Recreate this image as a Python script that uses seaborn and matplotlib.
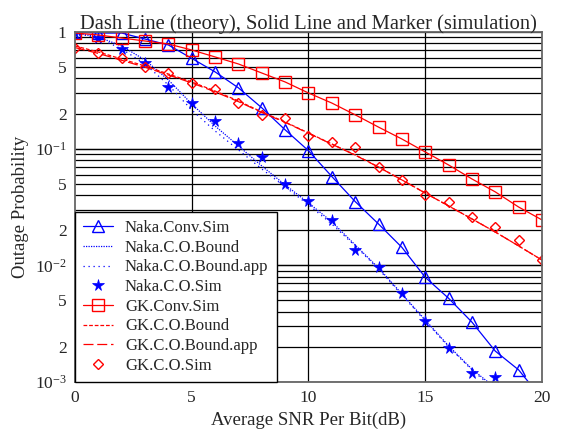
import numpy as np
import pandas as pd
import seaborn as sns
import matplotlib
matplotlib.use("Agg")
import matplotlib.pyplot as plt
from matplotlib.ticker import FixedLocator, NullLocator

# Average SNR per bit (dB)
snr = list(range(0, 21))

# Nakagami channel
naka_conv_sim = [1.0, 0.98, 0.98, 0.87, 0.774, 0.594, 0.455, 0.332, 0.224, 0.145,
                 0.096, 0.0577, 0.0352, 0.0226, 0.01426, 0.00789, 0.00522, 0.00326,
                 0.00184, 0.00127, 0.00072]
naka_co_bound = [0.98, 0.906, 0.759, 0.575, 0.388, 0.2415, 0.1565, 0.1055, 0.0711, 0.0489,
                 0.0343, 0.0236, 0.01496, 0.0095, 0.00569, 0.0034, 0.00204, 0.00129,
                 0.00089, 0.000577, 0.000373]
naka_co_bound_app = [0.98, 0.888, 0.715, 0.532, 0.3515, 0.2146, 0.1418, 0.0975, 0.067, 0.047,
                     0.033, 0.0226, 0.01466, 0.0093, 0.00557, 0.00334, 0.0020, 0.00127,
                     0.000855, 0.00056, 0.00036]
naka_snr_sim = list(range(0, 19))
naka_co_sim = [0.98, 0.888, 0.715, 0.542, 0.338, 0.246, 0.173, 0.112, 0.0849, 0.0498,
               0.0356, 0.0245, 0.01355, 0.0096, 0.0058, 0.00334, 0.00196, 0.00119, 0.0011]

# Generalized-K channel
gk_conv_sim = [0.98, 0.943, 0.888, 0.837, 0.789, 0.701, 0.611, 0.532, 0.445, 0.373,
               0.300, 0.246, 0.195, 0.153, 0.121, 0.0937, 0.0725, 0.055, 0.0426,
               0.0316, 0.0245]
gk_co_bound = [0.759, 0.674, 0.587, 0.511, 0.4365, 0.373, 0.312, 0.2564, 0.2063, 0.1693,
               0.1363, 0.1097, 0.0883, 0.0697, 0.054, 0.0417, 0.0323, 0.025, 0.0193,
               0.01466, 0.0111]
gk_co_bound_app = [0.735, 0.655, 0.572, 0.499, 0.428, 0.366, 0.307, 0.253, 0.204, 0.168,
                   0.1355, 0.1092, 0.088, 0.0695, 0.0539, 0.0416, 0.0323, 0.025, 0.0193,
                   0.01466, 0.0111]
gk_co_sim = [0.729, 0.661, 0.599, 0.501, 0.445, 0.366, 0.325, 0.246, 0.195, 0.183,
             0.128, 0.113, 0.1035, 0.069, 0.054, 0.0401, 0.0349, 0.026, 0.0213,
             0.0165, 0.0111]

y_ticks = [1e-3, 2e-3, 5e-3, 1e-2, 2e-2, 5e-2, 1e-1, 2e-1, 5e-1, 1]
y_tick_labels = [r"$\mathregular{10^{-3}}$", "2", "5", r"$\mathregular{10^{-2}}$", "2", "5",
                 r"$\mathregular{10^{-1}}$", "2", "5", "1"]
x_ticks = [0, 5, 10, 15, 20]

sns.set_theme(style="white")
plt.rcParams["font.family"] = ["Liberation Serif", "DejaVu Serif"]
plt.rcParams["mathtext.fontset"] = "custom"
plt.rcParams["mathtext.rm"] = "Liberation Serif"
plt.rcParams["mathtext.it"] = "Liberation Serif:italic"

fig = plt.figure(figsize=(5.63, 4.30), dpi=100)
ax = fig.add_axes([0.1332, 0.1116, 0.8295, 0.814])

blue = "#0000ff"
red = "#ff0000"
lw = 0.9

sns.lineplot(x=snr, y=naka_conv_sim, ax=ax, color=blue, lw=lw, marker="^", markersize=8.5,
             markerfacecolor="none", markeredgecolor=blue, markeredgewidth=1,
             label="Naka.Conv.Sim")
sns.lineplot(x=snr, y=naka_co_bound, ax=ax, color=blue, lw=lw, linestyle=(0, (1, 1)),
             label="Naka.C.O.Bound")
sns.lineplot(x=snr, y=naka_co_bound_app, ax=ax, color=blue, lw=lw, linestyle=(0, (1, 3)),
             label="Naka.C.O.Bound.app")
sns.lineplot(x=naka_snr_sim, y=naka_co_sim, ax=ax, color=blue, linestyle="", marker="*",
             markersize=8.5, markeredgewidth=0.5, markeredgecolor=blue,
             label="Naka.C.O.Sim")
sns.lineplot(x=snr, y=gk_conv_sim, ax=ax, color=red, lw=lw, marker="s", markersize=8,
             markerfacecolor="none", markeredgecolor=red, markeredgewidth=1,
             label="GK.Conv.Sim")
sns.lineplot(x=snr, y=gk_co_bound, ax=ax, color=red, lw=lw, linestyle=(0, (3, 1.5)),
             label="GK.C.O.Bound")
sns.lineplot(x=snr, y=gk_co_bound_app, ax=ax, color=red, lw=lw, linestyle=(0, (8, 3)),
             label="GK.C.O.Bound.app")
sns.lineplot(x=snr, y=gk_co_sim, ax=ax, color=red, linestyle="", marker="D", markersize=5.5,
             markerfacecolor="none", markeredgecolor=red, markeredgewidth=1,
             label="GK.C.O.Sim")

ax.set_yscale("log")
ax.set_xlim(0, 20)
ax.set_ylim(1e-3, 1)
ax.xaxis.set_major_locator(FixedLocator(x_ticks))
ax.set_xticklabels([str(t) for t in x_ticks])
ax.yaxis.set_major_locator(FixedLocator(y_ticks))
ax.yaxis.set_minor_locator(NullLocator())
ax.set_yticklabels(y_tick_labels)
ax.tick_params(axis="both", length=0, labelsize=12.5, pad=6)

# grid: every decade subdivision horizontally, 5 dB steps vertically
for k in (-3, -2, -1):
    for m in range(1, 11):
        ax.axhline(m * 10.0 ** k, color="black", lw=0.9, zorder=0.5)
for xv in x_ticks[1:-1]:
    ax.axvline(xv, color="black", lw=0.9, zorder=0.5)

for s in ax.spines.values():
    s.set_color("#666666")
    s.set_linewidth(1.3)
    s.set_visible(True)

ax.set_title("Dash Line (theory), Solid Line and Marker (simulation)", fontsize=14.8, pad=2)
ax.set_xlabel("Average SNR Per Bit(dB)", fontsize=13.5, labelpad=4)
ax.set_ylabel("Outage Probability", fontsize=13.5, labelpad=4)

leg = ax.legend(loc="lower left", borderaxespad=0, fontsize=12, frameon=True, fancybox=False,
                framealpha=1, edgecolor="black", handlelength=1.8, labelspacing=0.22,
                borderpad=0.5, handletextpad=0.7)
leg.get_frame().set_linewidth(1.0)
leg.set_zorder(10)

fig.savefig("out.png", dpi=100)
